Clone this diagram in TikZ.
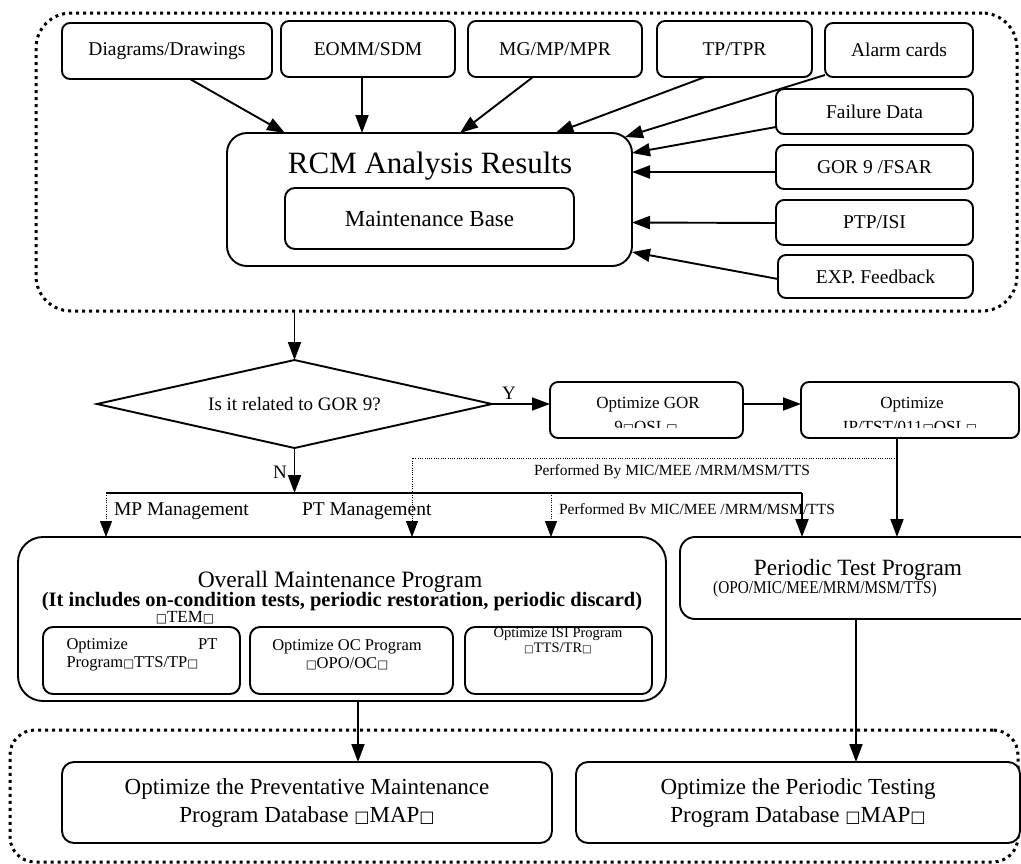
\documentclass[tikz,border=0pt]{standalone}
\usepackage{fontspec}
\setmainfont{Liberation Serif}
\newfontfamily\boxglyphfont{DejaVu Sans}
\usetikzlibrary{arrows.meta,shapes.geometric,calc}
\newcommand{\bx}{{\boxglyphfont\scalebox{0.7}{\char"25A1}}}
\newcommand{\fsz}[2]{\fontsize{#1}{#2}\selectfont}

\begin{document}
\begin{tikzpicture}[x=1pt,y=-1pt,
  every node/.style={inner sep=0pt,outer sep=0pt},
  box/.style={draw,line width=1.9pt,rounded corners=#1,fill=white,align=center},
  box/.default=8pt,
  tb/.style={box,font=\fsz{19.5}{23}},
  dotframe/.style={draw,line width=3pt,dash pattern=on 3pt off 4pt,rounded corners=#1},
  dotframe/.default=35pt,
  arr/.style={line width=1.9pt,-{Triangle[length=18pt,width=13pt]}},
  darr/.style={line width=0.9pt,dash pattern=on 1pt off 1.3pt,-{Triangle[length=16pt,width=12pt]}},
  busline/.style={line width=1.9pt},
  small/.style={font=\fsz{15.5}{18}}]

\fill[white] (0,0) rectangle (1021,863);
\useasboundingbox (0,0) rectangle (1021,863);
\clip (0,0) rectangle (1021,863);

% ---------- sources of the RCM analysis ----------
\node[dotframe=35pt,minimum width=981,minimum height=298] (topframe) at (526.5,162) {};

\node[tb,minimum width=210,minimum height=56] (diag) at (167,51) {Diagrams/Drawings};
\node[tb,minimum width=174,minimum height=56] (eomm) at (368,49) {EOMM/SDM};
\node[tb,minimum width=174,minimum height=56] (mg) at (555,49) {MG/MP/MPR};
\node[tb,minimum width=155,minimum height=56] (tp) at (734.5,49) {TP/TPR};
\node[tb,minimum width=148,minimum height=54] (alarm) at (899,50) {Alarm cards};
\node[tb,minimum width=197,minimum height=45] (fail) at (874.5,111.5) {Failure Data};
\node[tb,minimum width=197,minimum height=44] (gorf) at (874.5,167) {GOR 9 /FSAR};
\node[tb,minimum width=197,minimum height=45] (ptpisi) at (874.5,222.5) {PTP/ISI};
\node[tb,minimum width=195,minimum height=43] (exp) at (875.5,276.5) {EXP. Feedback};

\node[box=20pt,minimum width=405,minimum height=133] (rcm) at (429.5,199.5) {};
\node[font=\fsz{31}{36}] (rcmtitle) at (430,166) {RCM Analysis Results};
\node[box=10pt,minimum width=289,minimum height=61,font=\fsz{23}{27}] (mbase) at (429.5,218.5) {Maintenance Base};

\draw[arr] ($(diag.south)+(23,0)$) -- ($(rcm.north)+(-144.5,0)$);
\draw[arr] ($(eomm.south)+(-6,0)$) -- ($(rcm.north)+(-67.5,0)$);
\draw[arr] ($(mg.south)+(-22,0)$) -- ($(rcm.north)+(30.5,0)$);
\draw[arr] ($(tp.south)+(-29.5,0)$) -- ($(rcm.north)+(126,0)$);
\draw[arr] ($(alarm.south west)+(0,-2)$) -- ($(rcm.north east)+(-7,4)$);
\draw[arr] ($(fail.west)+(0,15.5)$) -- ($(rcm.east)+(0,-46.5)$);
\draw[arr] ($(gorf.west)+(0,5)$) -- ($(rcm.east)+(0,-27.5)$);
\draw[arr] ($(ptpisi.west)+(0,0.5)$) -- ($(rcm.east)+(0,23)$);
\draw[arr] ($(exp.west)+(0,2.5)$) -- ($(rcm.east)+(0,52.5)$);

% ---------- decision ----------
\node[draw,line width=1.9pt,shape=diamond,aspect=4.5,minimum width=395,minimum height=88,
      font=\fsz{19}{22}] (dec) at (294.5,404) {Is it related to GOR 9?};
\draw[arr] (topframe.south -| dec.north) -- (dec.north);

\node[box=8pt,minimum width=193,minimum height=56] (gor9) at (646.5,410) {};
\node[font=\fsz{17}{20}] (gor9t) at (648,405) {Optimize GOR};
\node[box=8pt,minimum width=218,minimum height=56] (ip) at (910,410) {};
\node[font=\fsz{17}{20}] (ipt) at (912,405) {Optimize};
\begin{scope}
  \clip (540,380) rectangle (1021,427.5);
  \node[font=\fsz{17}{20},anchor=base] (gor9u) at (646,432) {9\bx OSL\bx};
  \node[font=\fsz{17}{20},anchor=base] (ipu) at (910,432) {IP/TST/011\bx OSL\bx};
\end{scope}

\draw[arr] (dec.east) -- (dec.east -| gor9.west);
\node[font=\fsz{19}{22}] (ylab) at (509,393) {Y};
\draw[arr] ($(gor9.east)+(0,-6)$) -- ($(ip.west)+(0,-6)$);

% ---------- programs ----------
\node[box=25pt,minimum width=648,minimum height=164] (ovr) at (342,619) {};
\node[box=15pt,minimum width=355,minimum height=82] (ptprog) at (857.5,578) {};

\coordinate (ipdown) at ($(ip.south)+(-13,0)$);
\draw[arr] (ipdown) -- (ipdown |- ptprog.north);

\coordinate (busL) at (106,493);
\coordinate (busM) at (551,493);
\coordinate (busR) at (802,493);
\draw[busline] (busL) -- (busR);
\draw[arr] (dec.south) -- (dec.south |- busL);
\node[font=\fsz{19}{22}] (nlab) at (280,472) {N};
\draw[arr] (busR) -- (busR |- ptprog.north);
\draw[darr] (busL) -- (busL |- ovr.north);
\draw[darr] (busM) -- (busM |- ovr.north);

\coordinate (pj) at ($(ipdown)+(0,20)$);
\coordinate (pk) at (412,458);
\draw[darr] (pj) -- (pk) -- (pk |- ovr.north);

\node[small,anchor=west] (perf1) at (534,472) {Performed By MIC/MEE /MRM/MSM/TTS};
\node[small,anchor=west] (perf2) at (559,509) {Performed Bv MIC/MEE /MRM/MSM/TTS};
\node[font=\fsz{19.5}{23},anchor=west] (mpm) at (114,511) {MP Management};
\node[font=\fsz{19.5}{23},anchor=west] (ptm) at (302,511) {PT Management};

\node[font=\fsz{23.5}{27}] (ovrt) at (340,582) {Overall Maintenance Program};
\node[font=\fsz{20.5}{24}\bfseries] (ovrb) at (342,602) {(It includes on-condition tests, periodic restoration, periodic discard)};
\node[font=\fsz{17}{20}] (tem) at (185,618) {\bx TEM\bx};

\node[box=10pt,minimum width=197,minimum height=67] (ptin) at (141.5,660.5) {};
\node[font=\fsz{16.5}{18},text width=151,align=left] (ptint) at (142,655)
  {Optimize\hfill PT\\Program\bx TTS/TP\bx};
\node[box=10pt,minimum width=203,minimum height=67] (ocin) at (351.5,660.5) {};
\node[font=\fsz{16.5}{18},align=center] (ocint) at (347,655) {Optimize OC Program\\\bx OPO/OC\bx};
\node[box=10pt,minimum width=187,minimum height=67] (isin) at (558.5,660.5) {};
\node[font=\fsz{14.5}{15.5},align=center] (isint) at (558,641) {Optimize ISI Program\\\bx TTS/TR\bx};

\node[font=\fsz{23.3}{27},anchor=base] (ptpt) at (858,575) {Periodic Test Program};
\node[font=\fsz{18}{21},anchor=base] (ptps) at (825,593) {\scalebox{0.85}[1]{(OPO/MIC/MEE/MRM/MSM/TTS)}};

% ---------- databases ----------
\node[dotframe=25pt,minimum width=1008,minimum height=132] (botframe) at (514,796) {};
\node[box=12pt,minimum width=490,minimum height=81,font=\fsz{23}{28}] (pmdb) at (307,802.5)
  {Optimize the Preventative Maintenance\\Program Database \bx MAP\bx};
\node[box=12pt,minimum width=444,minimum height=81,font=\fsz{23}{28}] (ptdb) at (798,802.5)
  {Optimize the Periodic Testing\\Program Database \bx MAP\bx};

\coordinate (od) at ($(ovr.south)+(16,0)$);
\draw[arr] (od) -- (od |- pmdb.north);
\coordinate (pd) at ($(ptprog.south)+(-1.5,0)$);
\draw[arr] (pd) -- (pd |- ptdb.north);

\end{tikzpicture}
\end{document}
